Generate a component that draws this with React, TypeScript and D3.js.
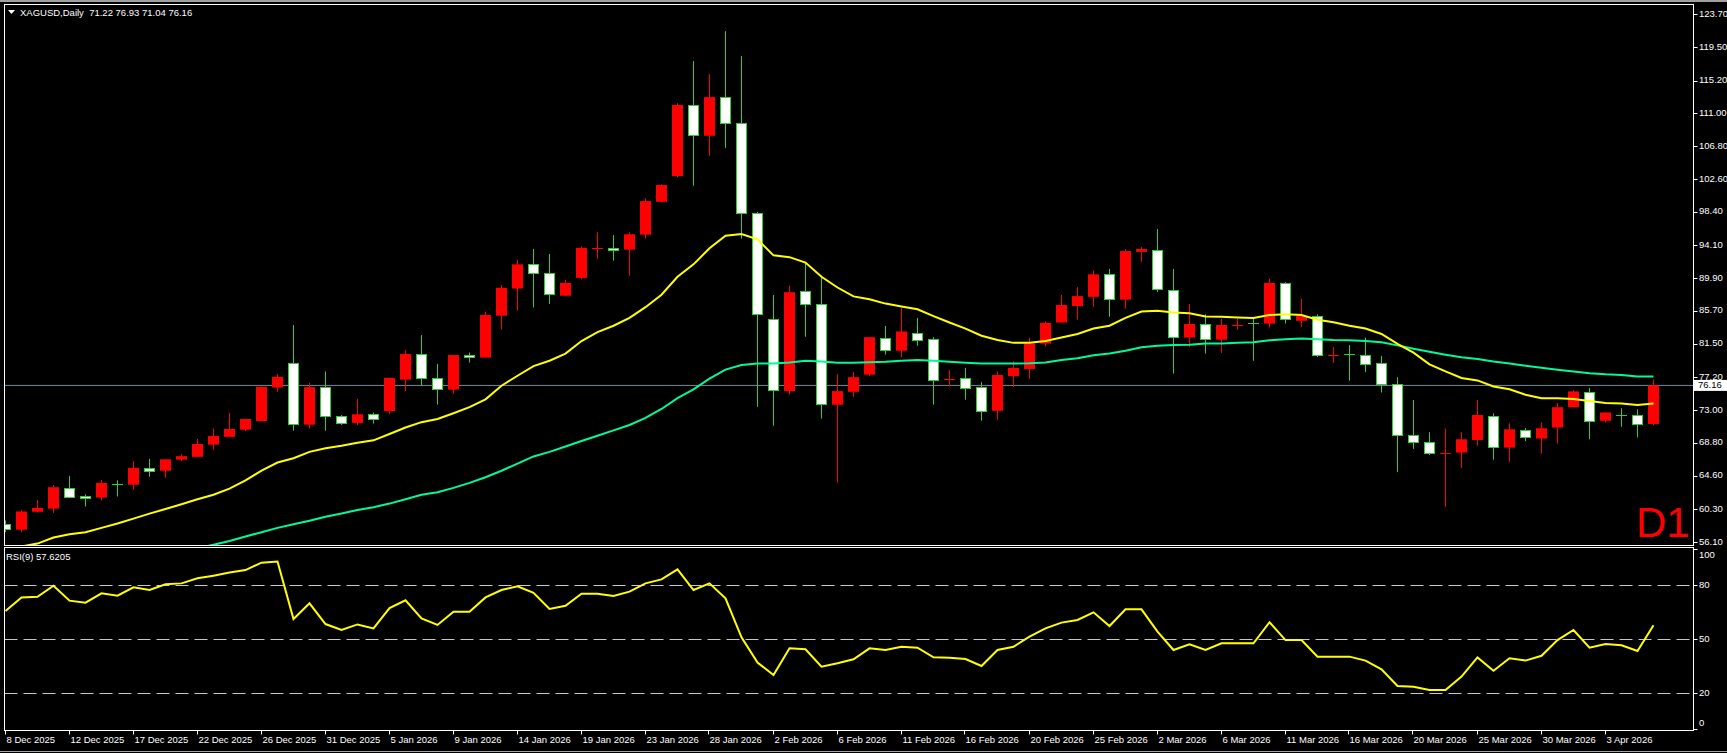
import React, { useEffect } from "react";
import * as d3 from "d3";

// ---------- DATA ----------
const symbolTitle = "XAGUSD,Daily  71.22 76.93 71.04 76.16";
const rsiTitle = "RSI(9) 57.6205";
const timeframeLabel = "D1";
const lastPrice = 76.16;

const opens = [
  58.40, 57.68, 59.97, 60.38, 63.08, 61.98, 61.80, 63.55, 63.44, 65.60,
  65.23, 66.65, 67.01, 68.57, 69.57, 70.49, 71.59, 75.89, 79.09, 71.13,
  75.94, 72.18, 71.36, 72.46, 72.87, 76.90, 80.19, 77.12, 75.62, 80.01,
  79.73, 85.09, 88.57, 91.67, 90.53, 87.65, 89.93, 93.70, 93.73, 93.55,
  95.47, 99.68, 102.97, 112.03, 108.14, 113.09, 109.75, 98.22, 84.67, 75.43,
  88.20, 86.55, 73.69, 75.34, 77.54, 82.29, 80.60, 82.93, 82.06, 76.80,
  77.08, 75.94, 72.91, 77.35, 78.27, 81.52, 84.22, 86.32, 87.51, 90.39,
  87.15, 93.27, 93.46, 88.33, 82.29, 83.99, 82.02, 83.90, 84.14, 84.08,
  89.25, 84.44, 84.99, 79.95, 80.12, 80.01, 79.00, 76.30, 69.80, 68.93,
  67.45, 67.56, 69.17, 72.18, 68.20, 70.49, 69.35, 70.77, 73.37, 75.34,
  71.63, 72.42, 72.32, 71.22,
];
const highs = [
  58.87, 60.20, 61.48, 63.40, 64.54, 62.21, 64.04, 64.00, 66.46, 66.74,
  66.69, 67.38, 69.30, 70.63, 72.64, 71.86, 76.00, 77.63, 83.90, 76.49,
  77.95, 72.37, 74.43, 72.69, 77.15, 80.69, 82.61, 78.91, 80.05, 80.37,
  85.63, 89.02, 92.22, 93.64, 93.00, 89.66, 93.96, 95.79, 95.42, 95.79,
  100.14, 101.92, 112.31, 117.71, 116.06, 121.55, 118.35, 98.40, 87.74, 88.93,
  91.86, 90.07, 77.63, 77.86, 82.34, 83.76, 86.09, 84.81, 82.34, 78.13,
  78.41, 76.58, 77.95, 79.27, 82.25, 84.35, 87.74, 88.75, 90.90, 91.08,
  93.64, 93.87, 96.20, 91.08, 86.60, 85.27, 84.67, 84.67, 84.67, 89.80,
  89.38, 87.24, 85.27, 81.06, 81.33, 82.29, 79.92, 77.22, 74.29, 70.17,
  70.63, 70.17, 74.29, 72.59, 71.31, 70.72, 71.45, 73.92, 75.57, 75.84,
  72.69, 73.24, 73.10, 76.93,
];
const lows = [
  57.36, 57.36, 59.88, 59.83, 61.80, 60.65, 61.39, 61.93, 62.80, 64.45,
  64.31, 66.46, 67.00, 67.88, 69.55, 70.31, 71.55, 75.34, 70.35, 70.63,
  70.35, 71.09, 71.09, 71.27, 72.50, 75.43, 76.12, 73.69, 75.11, 79.09,
  79.73, 83.30, 85.73, 86.14, 86.60, 87.60, 89.75, 92.40, 92.13, 90.21,
  94.97, 99.60, 102.84, 101.74, 105.58, 106.59, 94.97, 73.42, 70.99, 74.97,
  82.39, 71.91, 63.72, 74.70, 77.40, 80.10, 79.78, 81.24, 73.69, 76.03,
  74.33, 71.63, 71.77, 75.98, 77.03, 81.15, 84.22, 84.58, 86.23, 84.95,
  86.00, 92.00, 88.10, 77.67, 81.10, 80.23, 80.33, 83.30, 79.32, 83.57,
  84.08, 83.67, 79.78, 79.05, 76.76, 77.86, 75.25, 65.05, 68.02, 67.24,
  60.56, 65.60, 68.43, 66.65, 66.37, 69.03, 67.42, 68.71, 73.37, 69.26,
  71.45, 70.86, 69.49, 71.04,
];
const closes = [
  57.75, 60.01, 60.47, 63.12, 61.93, 61.66, 63.67, 63.50, 65.60, 65.23,
  66.69, 67.10, 68.66, 69.67, 70.58, 71.86, 75.98, 77.26, 71.31, 75.94,
  72.18, 71.27, 72.46, 71.77, 77.12, 80.19, 77.08, 75.66, 80.05, 79.78,
  85.18, 88.66, 91.67, 90.53, 87.79, 89.29, 93.78, 93.80, 93.46, 95.52,
  99.77, 101.83, 112.08, 108.14, 113.09, 109.70, 98.17, 85.22, 75.52, 88.10,
  86.55, 73.74, 75.43, 77.22, 82.34, 80.78, 83.07, 82.06, 76.76, 76.93,
  75.75, 72.91, 77.49, 78.41, 81.52, 84.17, 86.46, 87.60, 90.39, 87.19,
  93.37, 93.64, 88.47, 82.29, 84.03, 82.02, 83.90, 83.95, 84.10, 89.29,
  84.58, 85.04, 80.01, 80.05, 80.08, 78.87, 76.26, 69.71, 68.93, 67.56,
  67.55, 69.26, 72.37, 68.25, 70.54, 69.62, 70.67, 73.37, 75.39, 71.68,
  72.69, 72.38, 71.18, 76.16,
];

// fast moving average (yellow)
const maFast = [
  55.07, 55.53, 55.90, 56.68, 57.09, 57.36, 57.91, 58.46, 59.10, 59.74,
  60.33, 60.93, 61.57, 62.16, 62.94, 64.00, 65.23, 66.28, 66.83, 67.65,
  68.11, 68.43, 68.80, 69.12, 69.94, 70.77, 71.45, 71.86, 72.60, 73.37,
  74.38, 76.12, 77.40, 78.64, 79.32, 80.24, 81.84, 82.98, 83.80, 84.81,
  86.18, 87.78, 90.07, 91.67, 93.73, 95.33, 95.56, 94.88, 92.82, 92.59,
  91.90, 90.07, 88.70, 87.56, 87.19, 86.64, 86.27, 85.91, 85.04, 84.22,
  83.44, 82.52, 81.97, 81.61, 81.61, 81.84, 82.29, 82.75, 83.44, 83.80,
  84.81, 85.63, 85.73, 85.50, 85.41, 84.99, 84.95, 84.86, 84.81, 85.18,
  85.27, 85.18, 84.58, 84.26, 83.80, 83.44, 82.75, 81.47, 80.35, 78.86,
  77.95, 77.12, 76.80, 76.03, 75.66, 74.97, 74.52, 74.52, 74.43, 74.15,
  73.92, 73.83, 73.65, 73.83,
];
// slow moving average (green) (null = below the visible range)
const maSlow: (number | null)[] = [
  null, null, null, null, null, null, null, null, null, null,
  null, null, 55.30, 55.76, 56.22, 56.81, 57.36, 57.91, 58.37, 58.82,
  59.33, 59.74, 60.20, 60.56, 61.02, 61.57, 62.16, 62.48, 63.03, 63.67,
  64.40, 65.23, 66.14, 67.06, 67.65, 68.34, 69.03, 69.71, 70.40, 71.09,
  72.00, 73.14, 74.52, 75.66, 77.03, 78.18, 78.77, 78.96, 78.96, 79.09,
  79.32, 79.23, 79.05, 79.05, 79.14, 79.18, 79.32, 79.41, 79.32, 79.18,
  79.05, 78.96, 78.96, 78.96, 79.00, 79.09, 79.41, 79.64, 80.01, 80.24,
  80.60, 81.06, 81.24, 81.33, 81.38, 81.52, 81.52, 81.61, 81.70, 81.93,
  82.06, 82.16, 82.06, 81.97, 81.93, 81.84, 81.70, 81.29, 80.85, 80.46,
  80.10, 79.78, 79.55, 79.23, 78.96, 78.68, 78.41, 78.18, 77.95, 77.72,
  77.58, 77.49, 77.31, 77.31,
];
const rsiValues = [
  65.6, 73.0, 73.5, 79.6, 71.3, 70.2, 75.4, 74.1, 78.7, 77.2,
  80.4, 80.9, 83.7, 85.2, 86.9, 88.3, 92.4, 93.0, 61.1, 69.8,
  58.3, 55.0, 58.1, 55.9, 67.2, 71.5, 61.5, 57.8, 65.2, 65.2,
  73.1, 77.2, 79.3, 75.7, 66.7, 68.5, 75.2, 75.2, 73.9, 76.3,
  80.9, 83.1, 88.7, 77.2, 80.9, 72.6, 50.9, 36.9, 30.0, 44.8,
  44.3, 34.6, 36.5, 38.7, 44.8, 43.9, 45.7, 45.2, 39.8, 39.6,
  38.9, 35.0, 43.9, 45.7, 51.3, 55.9, 59.1, 60.6, 64.8, 57.2,
  66.5, 66.5, 54.1, 43.9, 47.0, 43.9, 47.6, 47.6, 47.6, 59.3,
  49.4, 49.4, 40.2, 40.2, 40.2, 38.0, 33.1, 23.9, 23.5, 21.7,
  21.7, 29.1, 39.8, 32.4, 39.3, 38.0, 40.7, 49.4, 55.0, 45.2,
  47.2, 46.5, 43.3, 57.6,
];

const priceTicks = [
  123.70, 119.50, 115.20, 111.00, 106.80, 102.60, 98.40, 94.10, 89.90,
  85.70, 81.50, 77.20, 73.00, 68.80, 64.60, 60.30, 56.10,
];
const rsiTicks = [100, 80, 50, 20, 0];
const rsiLevels = [80, 50, 20];

const dateLabels = [
  "8 Dec 2025", "12 Dec 2025", "17 Dec 2025", "22 Dec 2025", "26 Dec 2025",
  "31 Dec 2025", "5 Jan 2026", "9 Jan 2026", "14 Jan 2026", "19 Jan 2026",
  "23 Jan 2026", "28 Jan 2026", "2 Feb 2026", "6 Feb 2026", "11 Feb 2026",
  "16 Feb 2026", "20 Feb 2026", "25 Feb 2026", "2 Mar 2026", "6 Mar 2026",
  "11 Mar 2026", "16 Mar 2026", "20 Mar 2026", "25 Mar 2026", "30 Mar 2026",
  "3 Apr 2026",
];
const dateLabelBars = [
  0, 4, 8, 12, 16, 20, 24, 28, 32, 36, 40, 44, 48, 52, 56, 60, 64, 68, 72,
  76, 80, 84, 88, 92, 96, 100,
];

// ---------- LAYOUT ----------
const W = 1727;
const H = 753;
const L = 4.5;
const R = 1693.5;
const mainTop = 4.5;
const mainBottom = 545.5;
const rsiTop = 547.5;
const rsiBottom = 730.5;
const FONT = "'Liberation Sans', Arial, sans-serif";

const BULL = "#ff0000";
const BEAR = "#32cd32";
const TEXT = "#ffffff";

export default function App() {
  useEffect(() => {
    document.body.style.margin = "0";
    document.body.style.background = "#000";
  }, []);

  const n = closes.length;
  const x = d3.scaleLinear().domain([0, n - 1]).range([5.5, 5.5 + 16 * (n - 1)]);
  const y = d3.scaleLinear().domain([56.1, 123.7]).range([542, 14.3]);
  const yr = d3.scaleLinear().domain([0, 100]).range([729, 549]);

  const fastLine = d3
    .line<number>()
    .x((_, i) => x(i))
    .y((d) => y(d))(maFast) as string;
  const slowLine = d3
    .line<number | null>()
    .defined((d) => d !== null)
    .x((_, i) => x(i))
    .y((d) => y(d as number))(maSlow) as string;
  const rsiLine = d3
    .line<number>()
    .x((_, i) => x(i))
    .y((d) => yr(d))(rsiValues) as string;

  const candles = closes.map((c, i) => {
    const o = opens[i];
    const h = highs[i];
    const l = lows[i];
    const bull = c >= o;
    const cx = x(i);
    const yo = y(o);
    const yc = y(c);
    const top = Math.min(yo, yc);
    const bot = Math.max(yo, yc);
    const color = bull ? BULL : BEAR;
    const doji = bot - top < 1.5;
    return (
      <g key={i}>
        <line x1={cx} x2={cx} y1={y(h)} y2={y(l)} stroke={color} strokeWidth={1} />
        {doji ? (
          <line
            x1={cx - 5.5}
            x2={cx + 5.5}
            y1={Math.round(top) + 0.5}
            y2={Math.round(top) + 0.5}
            stroke={color}
            strokeWidth={1}
          />
        ) : bull ? (
          <rect x={cx - 5.5} y={top} width={11} height={bot - top} fill={BULL} />
        ) : (
          <rect
            x={cx - 5}
            y={Math.round(top) + 0.5}
            width={10}
            height={Math.max(1, Math.round(bot - top))}
            fill="#ffffff"
            stroke={BEAR}
            strokeWidth={1}
          />
        )}
      </g>
    );
  });

  const priceY = y(lastPrice);

  return (
    <svg
      width={W}
      height={H}
      style={{ position: "fixed", left: 0, top: 0, background: "#000", display: "block" }}
      fontFamily={FONT}
    >
      <defs>
        <clipPath id="mainClip">
          <rect x={L} y={mainTop} width={R - L} height={mainBottom - mainTop} />
        </clipPath>
        <clipPath id="rsiClip">
          <rect x={L} y={rsiTop} width={R - L} height={rsiBottom - rsiTop} />
        </clipPath>
      </defs>
      <rect x={0} y={0} width={W} height={H} fill="#000" />
      {/* window frame */}
      <line x1={0} x2={W} y1={1} y2={1} stroke="#a0a0a0" strokeWidth={2} />
      <line x1={0} x2={W} y1={751.5} y2={751.5} stroke="#a0a0a0" strokeWidth={1} />

      {/* main panel */}
      <g clipPath="url(#mainClip)">
        <line x1={L} x2={R} y1={priceY} y2={priceY} stroke="#778899" strokeWidth={1} />
        {candles}
        <path d={slowLine} fill="none" stroke="#00fa9a" strokeWidth={2} />
        <path d={fastLine} fill="none" stroke="#ffff00" strokeWidth={2} />
      </g>
      <rect x={L} y={mainTop} width={R - L} height={mainBottom - mainTop} fill="none" stroke="#ffffff" strokeWidth={1} />

      {/* title */}
      <path d="M8,10 L15,10 L11.5,14 Z" fill={TEXT} />
      <text x={20} y={13} fontSize={9.5} fill={TEXT} dominantBaseline="middle" style={{ whiteSpace: "pre" }}>
        {symbolTitle}
      </text>
      <text x={1636} y={537} fontSize={42} fill="#ff0000">
        {timeframeLabel}
      </text>

      {/* price axis */}
      {priceTicks.map((t) => (
        <g key={t}>
          <line x1={R} x2={R + 4} y1={Math.round(y(t)) + 0.5} y2={Math.round(y(t)) + 0.5} stroke={TEXT} />
          <text x={1699} y={y(t)} fontSize={9.5} fill={TEXT} dominantBaseline="middle">
            {t.toFixed(2)}
          </text>
        </g>
      ))}
      <rect x={1694} y={priceY - 5.5} width={33} height={11} fill="#ffffff" />
      <text x={1698} y={priceY} fontSize={9.5} fill="#000" dominantBaseline="middle">
        {lastPrice.toFixed(2)}
      </text>

      {/* RSI panel */}
      <g clipPath="url(#rsiClip)">
        {rsiLevels.map((lv) => (
          <line
            key={lv}
            x1={L}
            x2={R}
            y1={Math.round(yr(lv)) + 0.5}
            y2={Math.round(yr(lv)) + 0.5}
            stroke="#c8c8c8"
            strokeWidth={1}
            strokeDasharray="13 6"
          />
        ))}
        <path d={rsiLine} fill="none" stroke="#ffff00" strokeWidth={2} />
      </g>
      <rect x={L} y={rsiTop} width={R - L} height={rsiBottom - rsiTop} fill="none" stroke="#ffffff" strokeWidth={1} />
      <text x={6} y={557} fontSize={9.5} fill={TEXT} dominantBaseline="middle">
        {rsiTitle}
      </text>
      {rsiTicks.map((t) => {
        const ty = Math.min(723, Math.max(555, yr(t)));
        return (
          <g key={t}>
            <line x1={R} x2={R + 4} y1={Math.round(yr(t)) + 0.5} y2={Math.round(yr(t)) + 0.5} stroke={TEXT} />
            <text x={1699} y={ty} fontSize={9.5} fill={TEXT} dominantBaseline="middle">
              {t}
            </text>
          </g>
        );
      })}

      {/* time axis */}
      {dateLabels.map((d, k) => {
        const tx = Math.round(x(dateLabelBars[k])) - 0.5;
        return (
          <g key={d}>
            <line x1={tx} x2={tx} y1={rsiBottom} y2={rsiBottom + 4} stroke={TEXT} />
            <text x={tx + 1} y={740} fontSize={9.5} fill={TEXT} dominantBaseline="middle">
              {d}
            </text>
          </g>
        );
      })}
    </svg>
  );
}
